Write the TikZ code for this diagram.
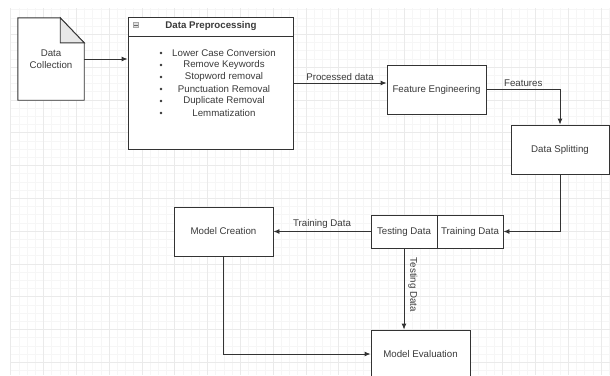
\documentclass[tikz,border=0pt]{standalone}
\usepackage{fontspec}
\setmainfont{Liberation Sans}
\usetikzlibrary{arrows.meta,calc}
\definecolor{ink}{HTML}{333333}
\definecolor{txt}{HTML}{3A3A3A}
\definecolor{gmin}{HTML}{F6F6F6}
\definecolor{gmaj}{HTML}{EAEAEA}
\tikzset{
  box/.style={draw=ink, line width=0.9pt, fill=white, rectangle, inner sep=0pt, text=txt, font=\fontsize{9.7}{12}\selectfont},
  lbl/.style={text=txt, font=\fontsize{9.7}{12}\selectfont, inner sep=1pt},
  conn/.style={draw=ink, line width=0.9pt, -{Latex[length=6pt,width=5pt]}},
}
\begin{document}
\begin{tikzpicture}[x=1pt,y=-1pt]
\clip (0,0) rectangle (610,375);
\useasboundingbox (0,0) rectangle (610,375);
\fill[white] (0,0) rectangle (610,375);
% grid
\foreach \i in {0,...,73} {
  \pgfmathsetmacro\gx{10.7+8.2*\i}
  \draw[gmin, line width=0.5pt] (\gx,8) -- (\gx,375);
}
\foreach \i in {1,...,45} {
  \pgfmathsetmacro\gy{1.5+8.2*\i}
  \draw[gmin, line width=0.5pt] (10.7,\gy) -- (610,\gy);
}
\foreach \i in {0,...,18} {
  \pgfmathsetmacro\gx{10.7+32.8*\i}
  \draw[gmaj, line width=0.6pt] (\gx,8) -- (\gx,375);
}
\foreach \i in {1,...,11} {
  \pgfmathsetmacro\gy{1.5+32.8*\i}
  \draw[gmaj, line width=0.6pt] (10.7,\gy) -- (610,\gy);
}
% Data Collection (document shape)
\node[lbl, align=center, minimum width=66pt, minimum height=82pt, inner sep=0pt] (dc) at (51,59) {Data\\Collection};
\filldraw[draw=ink, fill=white, line width=0.9pt]
  (dc.south west) -- (dc.north west) -- ($(dc.north east)+(-24,0)$) -- ($(dc.north east)+(0,25)$) -- (dc.south east) -- cycle;
\filldraw[draw=ink, fill=gray!18, line width=0.9pt]
  ($(dc.north east)+(-24,0)$) -- ($(dc.north east)+(-24,25)$) -- ($(dc.north east)+(0,25)$) -- cycle;
\node[lbl, align=center] at (dc.center) {Data\\Collection};
% Data Preprocessing
\node[box, minimum width=165pt, minimum height=132pt] (pp) at (210.5,83) {};
\draw[ink, line width=0.9pt] (128,36) -- (293,36);
\node[lbl, font=\fontsize{9.7}{12}\selectfont\bfseries] (pph) at (211,26) {Data Preprocessing};
\node[draw=gray!70, fill=gray!25, minimum size=5pt, inner sep=0pt] (ppicon) at (136,25) {};
\draw[gray!80!black, line width=0.5pt] ($(ppicon.west)+(1,0)$) -- ($(ppicon.east)+(-1,0)$);
\foreach \t [count=\k from 0] in {Lower Case Conversion,Remove Keywords,Stopword removal,Punctuation Removal,Duplicate Removal,Lemmatization} {
  \pgfmathsetmacro\yy{53+12*\k}
  \fill[ink] (161,\yy) circle (1.3pt);
  \node[lbl] at (224,\yy) {\t};
}
% other boxes
\node[box, minimum width=99pt, minimum height=49pt] (fe) at (436.5,89.5) {Feature Engineering};
\node[box, minimum width=98pt, minimum height=49pt] (ds) at (560,149.5) {Data Splitting};
\node[box, minimum width=66pt, minimum height=33pt] (test) at (404,231.5) {Testing Data};
\node[box, minimum width=66pt, minimum height=33pt] (train) at (470,231.5) {Training Data};
\node[box, minimum width=99pt, minimum height=49pt] (mc) at (223.5,231.5) {Model Creation};
\node[box, minimum width=99pt, minimum height=48pt] (me) at (420.5,354) {Model Evaluation};
% connectors
\draw[conn] (dc.east) -- (dc.east -| pp.west);
\draw[conn] (pp.east) -- node[lbl, above=1pt, pos=0.5] {Processed data} (pp.east -| fe.west);
\draw[conn] (fe.east) -- node[lbl, above=1pt, pos=0.5] {Features} (fe.east -| ds.north) -- (ds.north);
\draw[conn] (ds.south) -- (ds.south |- train.east) -- (train.east);
\draw[conn] (test.west) -- node[lbl, above=2pt, pos=0.5] {Training Data} (mc.east);
\draw[conn] (test.south) -- node[lbl, rotate=-90, anchor=south, yshift=3pt, pos=0.45] {Testing Data} (test.south |- me.north);
\draw[conn] (mc.south) -- (mc.south |- me.west) -- (me.west);
\end{tikzpicture}
\end{document}
